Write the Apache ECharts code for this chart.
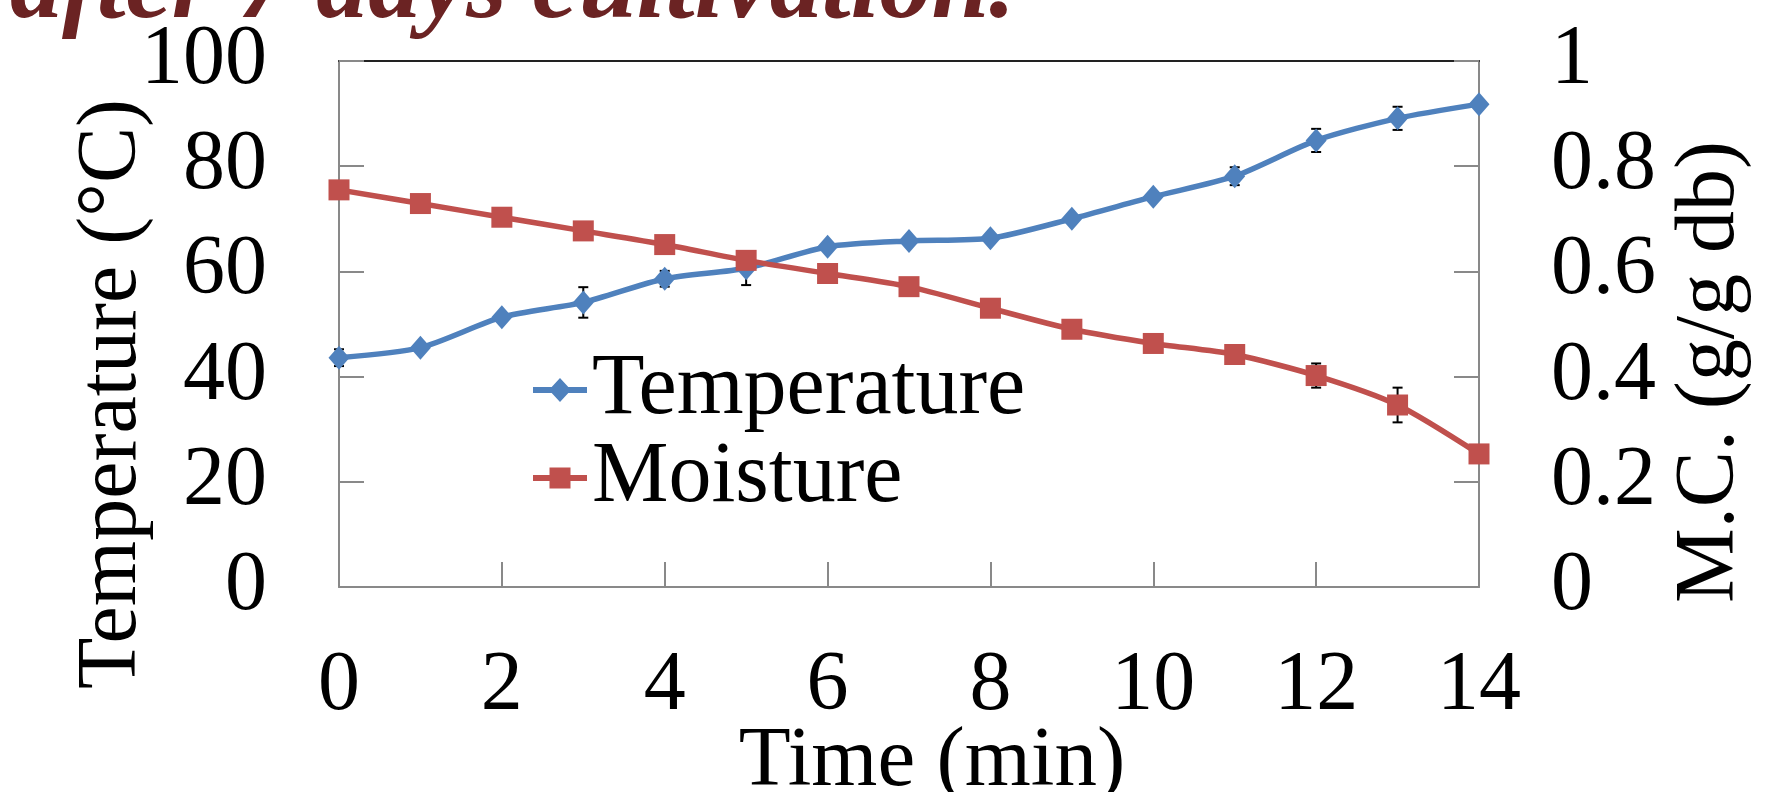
<!DOCTYPE html>
<html>
<head>
<meta charset="utf-8">
<script src="https://cdn.jsdelivr.net/npm/echarts@6/dist/echarts.min.js"></script>
<style>
  html, body { margin: 0; padding: 0; background: #fff; }
  #main { width: 1769px; height: 792px; }
</style>
</head>
<body>
<div id="main"></div>
<script>
    // 数据
    var times = [0, 1, 2, 3, 4, 5, 6, 7, 8, 9, 10, 11, 12, 13, 14];
    var temperature = [43.6, 45.5, 51.3, 54.1, 58.6, 60.6, 64.7, 65.8, 66.3, 70.0, 74.2, 78.1, 84.9, 89.1, 91.8];
    var tempError = [1.6, 0.8, 0.8, 2.9, 1.5, 3.2, 0.8, 0.8, 0.8, 0.8, 0.8, 1.7, 2.2, 2.2, 0.8];
    var moisture = [0.755, 0.729, 0.703, 0.677, 0.651, 0.621, 0.596, 0.571, 0.530, 0.490, 0.463, 0.442, 0.402, 0.346, 0.253];
    var moistError = [0.01, 0.01, 0.01, 0.01, 0.01, 0.01, 0.01, 0.01, 0.01, 0.01, 0.01, 0.01, 0.023, 0.033, 0.01];
    var xTicks = [0, 14, 2];      // min, max, interval
    var leftTicks = [0, 100, 20];
    var rightTicks = [0, 1, 0.2];

    var FONT = 'Liberation Serif';
    var AXIS_GREY = '#898989';

    // 图例图标：粗线 + 标记（最后两段零面积路径只用来固定包围盒）
    var BOX = ' M0,0 L54,0 L54,0 Z M0,25 L54,25 L54,25 Z';
    var ICON_DIAMOND = 'path://M0,9.5 L18.7,9.5 L27,0.5 L35.3,9.5 L54,9.5 L54,15.5 L35.3,15.5 L27,24.5 L18.7,15.5 L0,15.5 Z' + BOX;
    var ICON_SQUARE = 'path://M0,9.5 L16.5,9.5 L16.5,2 L37.5,2 L37.5,9.5 L54,9.5 L54,15.5 L37.5,15.5 L37.5,23 L16.5,23 L16.5,15.5 L0,15.5 Z' + BOX;

    var pairs = function(xs, ys){
        var out = [];
        for (var i = 0; i < xs.length; i++) {
            out.push([xs[i], ys[i]]);
        }
        return out;
    };

    var errRows = function(xs, ys, es){
        var out = [];
        for (var i = 0; i < xs.length; i++) {
            out.push([xs[i], ys[i] - es[i], ys[i] + es[i]]);
        }
        return out;
    };

    // 误差线
    var renderError = function(params, api){
        var lo = api.coord([api.value(0), api.value(1)]);
        var hi = api.coord([api.value(0), api.value(2)]);
        var half = 5;
        var style = { stroke: '#000', lineWidth: 2 };
        return {
            type: 'group',
            children: [
                { type: 'line', shape: { x1: lo[0], y1: lo[1], x2: hi[0], y2: hi[1] }, style: style },
                { type: 'line', shape: { x1: lo[0] - half, y1: lo[1], x2: lo[0] + half, y2: lo[1] }, style: style },
                { type: 'line', shape: { x1: hi[0] - half, y1: hi[1], x2: hi[0] + half, y2: hi[1] }, style: style }
            ]
        };
    };

    var valueAxisBase = function(){
        return {
            type: 'value',
            axisLine: { show: true, onZero: false, lineStyle: { color: AXIS_GREY, width: 2 } },
            axisTick: { show: true, inside: true, length: 25, lineStyle: { color: AXIS_GREY, width: 2 } },
            axisLabel: { fontFamily: FONT, fontSize: 84, color: '#000' },
            splitLine: { show: false }
        };
    };

    var xMain = valueAxisBase();
    xMain.min = xTicks[0]; xMain.max = xTicks[1]; xMain.interval = xTicks[2];
    xMain.position = 'bottom';
    xMain.axisLabel.margin = 58;
    xMain.name = 'Time (min)';
    xMain.nameLocation = 'middle';
    xMain.nameGap = 133;
    xMain.nameMoveOverlap = false;
    xMain.nameTextStyle = { fontFamily: FONT, fontSize: 85, color: '#000', padding: [0, 0, 0, 46] };

    // 顶部边框
    var xTop = {
        type: 'value', position: 'top', min: xTicks[0], max: xTicks[1],
        axisLine: { show: true, onZero: false, lineStyle: { color: '#222', width: 2 } },
        axisTick: { show: false }, axisLabel: { show: false }, splitLine: { show: false }
    };

    var yLeft = valueAxisBase();
    yLeft.min = leftTicks[0]; yLeft.max = leftTicks[1]; yLeft.interval = leftTicks[2];
    yLeft.position = 'left';
    yLeft.axisLabel.margin = 72;
    yLeft.name = 'Temperature (°C)';
    yLeft.nameLocation = 'middle';
    yLeft.nameGap = 184;
    yLeft.nameMoveOverlap = false;
    yLeft.nameTextStyle = { fontFamily: FONT, fontSize: 84, color: '#000', padding: [0, 140, 0, 0] };

    var yRight = valueAxisBase();
    yRight.min = rightTicks[0]; yRight.max = rightTicks[1]; yRight.interval = rightTicks[2];
    yRight.position = 'right';
    yRight.axisLabel.margin = 72;
    yRight.name = 'M.C. (g/g db)';
    yRight.nameLocation = 'middle';
    yRight.nameGap = 190;
    yRight.nameTextStyle = { fontFamily: FONT, fontSize: 84, color: '#000', padding: [0, 96, 0, 0] };

    var option = {
        animation: false,
        backgroundColor: '#fff',
        grid: { left: 339, right: 290, top: 61, bottom: 205, outerBoundsMode: 'none' },
        graphic: [{
            type: 'text', x: 10, y: -62, silent: true,
            style: {
                text: 'after 7 days cultivation.',
                font: 'italic bold 104px "Liberation Serif"',
                fill: '#6B2323'
            }
        }],
        legend: {
            data: [
                { name: 'Temperature', icon: ICON_DIAMOND },
                { name: 'Moisture', icon: ICON_SQUARE }
            ],
            orient: 'vertical',
            left: 528, top: 342,
            itemWidth: 54, itemHeight: 25, itemGap: 2,
            textStyle: { fontFamily: FONT, fontSize: 86, color: '#000' }
        },
        xAxis: [xMain, xTop],
        yAxis: [yLeft, yRight],
        series: [
            {
                name: 'TempError', type: 'custom', xAxisIndex: 0, yAxisIndex: 0, z: 1,
                renderItem: renderError, data: errRows(times, temperature, tempError)
            },
            {
                name: 'MoistError', type: 'custom', xAxisIndex: 0, yAxisIndex: 1, z: 1,
                renderItem: renderError, data: errRows(times, moisture, moistError)
            },
            {
                name: 'Temperature', type: 'line', xAxisIndex: 0, yAxisIndex: 0, z: 3,
                data: pairs(times, temperature),
                smooth: 0.25,
                symbol: 'diamond', symbolSize: [21, 24],
                lineStyle: { color: '#4F81BD', width: 5.5 },
                itemStyle: { color: '#4F81BD' }
            },
            {
                name: 'Moisture', type: 'line', xAxisIndex: 0, yAxisIndex: 1, z: 3,
                data: pairs(times, moisture),
                smooth: 0.25,
                symbol: 'rect', symbolSize: 21,
                lineStyle: { color: '#C0504D', width: 5.5 },
                itemStyle: { color: '#C0504D' }
            }
        ]
    };

    var myChart = echarts.init(document.getElementById('main'));
    myChart.setOption(option);
</script>
</body>
</html>
